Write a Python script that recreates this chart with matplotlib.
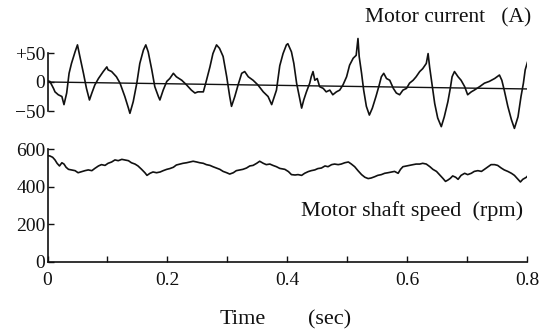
import numpy as np
import matplotlib
matplotlib.use("Agg")
import matplotlib.pyplot as plt
from matplotlib.ticker import MultipleLocator

plt.rcParams["font.family"] = ["Liberation Serif", "DejaVu Serif"]

# ── Data ─────────────────────────────────────────────────────────────────────
# motor current (A)
current_t = [
    0.000, 0.004, 0.007, 0.010, 0.0125, 0.018, 0.024, 0.0275, 0.032, 0.036,
    0.040, 0.046, 0.050, 0.054, 0.060, 0.065, 0.070, 0.074, 0.079, 0.085,
    0.093, 0.099, 0.101, 0.107, 0.115, 0.121, 0.129, 0.135, 0.1375, 0.143,
    0.149, 0.154, 0.160, 0.164, 0.168, 0.174, 0.179, 0.185, 0.1875, 0.193,
    0.199, 0.204, 0.210, 0.215, 0.224, 0.232, 0.240, 0.246, 0.251, 0.260,
    0.264, 0.271, 0.276, 0.282, 0.287, 0.293, 0.299, 0.304, 0.307, 0.3125,
    0.318, 0.324, 0.329, 0.335, 0.343, 0.351, 0.360, 0.368, 0.374, 0.382,
    0.3875, 0.393, 0.3986, 0.401, 0.407, 0.411, 0.4156, 0.420, 0.424, 0.4275,
    0.432, 0.4375, 0.440, 0.443, 0.446, 0.450, 0.454, 0.460, 0.465, 0.471,
    0.476, 0.482, 0.4875, 0.493, 0.499, 0.504, 0.510, 0.515, 0.518, 0.520,
    0.524, 0.5275, 0.532, 0.537, 0.542, 0.548, 0.5535, 0.557, 0.561, 0.5656,
    0.571, 0.577, 0.582, 0.5875, 0.593, 0.599, 0.604, 0.610, 0.615, 0.621,
    0.626, 0.632, 0.635, 0.6375, 0.642, 0.646, 0.651, 0.657, 0.662, 0.668,
    0.672, 0.675, 0.679, 0.685, 0.690, 0.696, 0.701, 0.707, 0.712, 0.721,
    0.729, 0.737, 0.746, 0.754, 0.758, 0.762, 0.768, 0.774, 0.779, 0.785,
    0.790, 0.794, 0.797, 0.801, 0.805,
]
current_a = [
    2, 1, -5, -11, -17, -22, -25, -39, -19, 15,
    32, 52, 64, 44, 15, -11, -31, -19, -5, 6,
    18, 26, 21, 18, 9, -2, -25, -45, -54, -34,
    -2, 32, 55, 64, 52, 21, -8, -25, -31, -14,
    1, 6, 15, 9, 3, -5, -14, -19, -17, -17,
    -2, 26, 49, 64, 58, 44, 9, -25, -42, -25,
    -5, 15, 18, 9, 3, -5, -17, -25, -39, -14,
    28, 49, 64, 66, 52, 32, -2, -25, -45, -31,
    -17, -2, 9, 18, 3, 6, -8, -11, -17, -14,
    -22, -17, -14, -5, 9, 29, 41, 46, 75, 44,
    15, -14, -42, -57, -45, -25, -5, 9, 15, 6,
    3, -11, -19, -22, -14, -11, -2, 3, 9, 18,
    23, 32, 49, 26, -8, -37, -62, -77, -60, -34,
    -11, 9, 18, 9, 3, -8, -22, -17, -14, -8,
    -2, 1, 6, 12, 3, -14, -42, -65, -80, -60,
    -25, -2, 21, 35, 32,
]
# drifting zero line of the current record
zero_t = [0.0, 0.802]
zero_a = [0, -12]

# motor shaft speed (rpm)
speed_t = [
    0.000, 0.004, 0.0086, 0.0125, 0.016, 0.020, 0.024, 0.0275, 0.031, 0.035,
    0.040, 0.046, 0.051, 0.057, 0.0625, 0.068, 0.074, 0.079, 0.085, 0.090,
    0.096, 0.101, 0.107, 0.1125, 0.118, 0.124, 0.129, 0.135, 0.140, 0.146,
    0.151, 0.157, 0.1625, 0.166, 0.171, 0.176, 0.182, 0.188, 0.193, 0.199,
    0.204, 0.210, 0.215, 0.221, 0.226, 0.232, 0.2375, 0.243, 0.249, 0.254,
    0.260, 0.265, 0.271, 0.276, 0.282, 0.2875, 0.293, 0.299, 0.304, 0.310,
    0.315, 0.321, 0.326, 0.332, 0.3375, 0.343, 0.349, 0.354, 0.360, 0.365,
    0.371, 0.376, 0.382, 0.3875, 0.396, 0.402, 0.407, 0.413, 0.418, 0.424,
    0.429, 0.435, 0.440, 0.446, 0.451, 0.457, 0.463, 0.468, 0.474, 0.479,
    0.485, 0.490, 0.496, 0.502, 0.507, 0.5125, 0.518, 0.524, 0.5295, 0.535,
    0.540, 0.546, 0.551, 0.557, 0.5625, 0.568, 0.574, 0.579, 0.585, 0.589,
    0.593, 0.599, 0.604, 0.610, 0.615, 0.621, 0.626, 0.632, 0.638, 0.643,
    0.649, 0.654, 0.660, 0.664, 0.668, 0.672, 0.676, 0.681, 0.685, 0.690,
    0.696, 0.701, 0.707, 0.712, 0.718, 0.724, 0.729, 0.735, 0.740, 0.746,
    0.751, 0.757, 0.762, 0.768, 0.774, 0.779, 0.785, 0.789, 0.793, 0.799,
    0.801,
]
speed_rpm = [
    565, 563, 556, 542, 524, 510, 527, 520, 503, 492,
    489, 485, 474, 480, 485, 489, 485, 497, 510, 517,
    513, 524, 531, 542, 538, 545, 542, 538, 527, 520,
    510, 492, 474, 460, 471, 478, 474, 478, 485, 492,
    496, 503, 515, 520, 524, 527, 531, 535, 531, 527,
    524, 517, 513, 506, 499, 492, 481, 474, 467, 474,
    485, 489, 492, 499, 510, 513, 524, 535, 524, 517,
    520, 513, 506, 497, 492, 480, 464, 462, 464, 460,
    471, 480, 485, 489, 496, 499, 510, 506, 517, 520,
    517, 520, 527, 531, 520, 506, 485, 464, 450, 443,
    446, 453, 460, 464, 471, 474, 478, 481, 471, 492,
    506, 510, 513, 517, 520, 520, 524, 520, 506, 492,
    481, 464, 443, 428, 435, 444, 457, 450, 439, 460,
    471, 464, 471, 481, 485, 481, 492, 506, 517, 517,
    513, 499, 489, 481, 471, 460, 439, 425, 439, 450,
    457,
]

x_ticks = [0, 0.2, 0.4, 0.6, 0.8]
x_tick_labels = ["0", "0.2", "0.4", "0.6", "0.8"]
current_ticks = [-50, 0, 50]
current_tick_labels = ["\u221250", "0", "+50"]
speed_ticks = [0, 200, 400, 600]
speed_tick_labels = ["0", "200", "400", "600"]

INK = "#111111"
W, H = 540, 330


def px_rect(x0, y_top, x1, y_bottom):
    # pixel box (top-left origin) -> figure fraction rect
    return [x0 / W, 1 - y_bottom / H, (x1 - x0) / W, (y_bottom - y_top) / H]


fig = plt.figure(figsize=(5.4, 3.3), dpi=100)

# ── Top panel: motor current ─────────────────────────────────────────────────
a_per_px = 1 / 0.58
ax_c = fig.add_axes(px_rect(47.5, 82 - 90 / a_per_px, 527, 82 + 90 / a_per_px))
ax_c.plot(current_t, current_a, color=INK, lw=1.2)
ax_c.plot(zero_t, zero_a, color=INK, lw=1.0)
ax_c.set_xlim(0, 0.8)
ax_c.set_ylim(-90, 90)
for s in ("top", "right", "bottom"):
    ax_c.spines[s].set_visible(False)
ax_c.spines["left"].set_bounds(-50, 50)
ax_c.spines["left"].set_linewidth(1.2)
ax_c.spines["left"].set_color(INK)
ax_c.set_xticks([])
ax_c.set_yticks(current_ticks)
ax_c.set_yticklabels(current_tick_labels)
ax_c.tick_params(axis="y", direction="in", length=4.5, width=1.0, pad=1.5,
                 labelsize=14, colors=INK)

# ── Bottom panel: shaft speed ────────────────────────────────────────────────
rpm_per_px = 600 / 113
ax_s = fig.add_axes(px_rect(47.5, 262 - 650 / rpm_per_px, 527, 262))
ax_s.plot(speed_t, speed_rpm, color=INK, lw=1.2)
ax_s.set_xlim(0, 0.8)
ax_s.set_ylim(0, 650)
for s in ("top", "right"):
    ax_s.spines[s].set_visible(False)
ax_s.spines["left"].set_bounds(0, 600)
for s in ("left", "bottom"):
    ax_s.spines[s].set_linewidth(1.2)
    ax_s.spines[s].set_color(INK)
ax_s.set_xticks(x_ticks)
ax_s.set_xticklabels(x_tick_labels)
ax_s.xaxis.set_minor_locator(MultipleLocator(0.1))
ax_s.set_yticks(speed_ticks)
ax_s.set_yticklabels(speed_tick_labels)
ax_s.tick_params(axis="both", which="both", direction="in", length=4.5, width=1.0,
                 labelsize=14, colors=INK)
ax_s.tick_params(axis="y", pad=1.5)
ax_s.tick_params(axis="x", pad=7)

# ── Labels ───────────────────────────────────────────────────────────────────
fig.text(531 / W, 1 - 18 / H, "Motor current   (A)", ha="right", va="center",
         fontsize=15.5, color=INK)
fig.text(523 / W, 1 - 211 / H, "Motor shaft speed  (rpm)", ha="right", va="center",
         fontsize=16, color=INK)
fig.text(243 / W, 1 - 320 / H, "Time", ha="center", va="center",
         fontsize=16, color=INK)
fig.text(330 / W, 1 - 320 / H, "(sec)", ha="center", va="center",
         fontsize=16, color=INK)

fig.savefig("out.png", dpi=100)
